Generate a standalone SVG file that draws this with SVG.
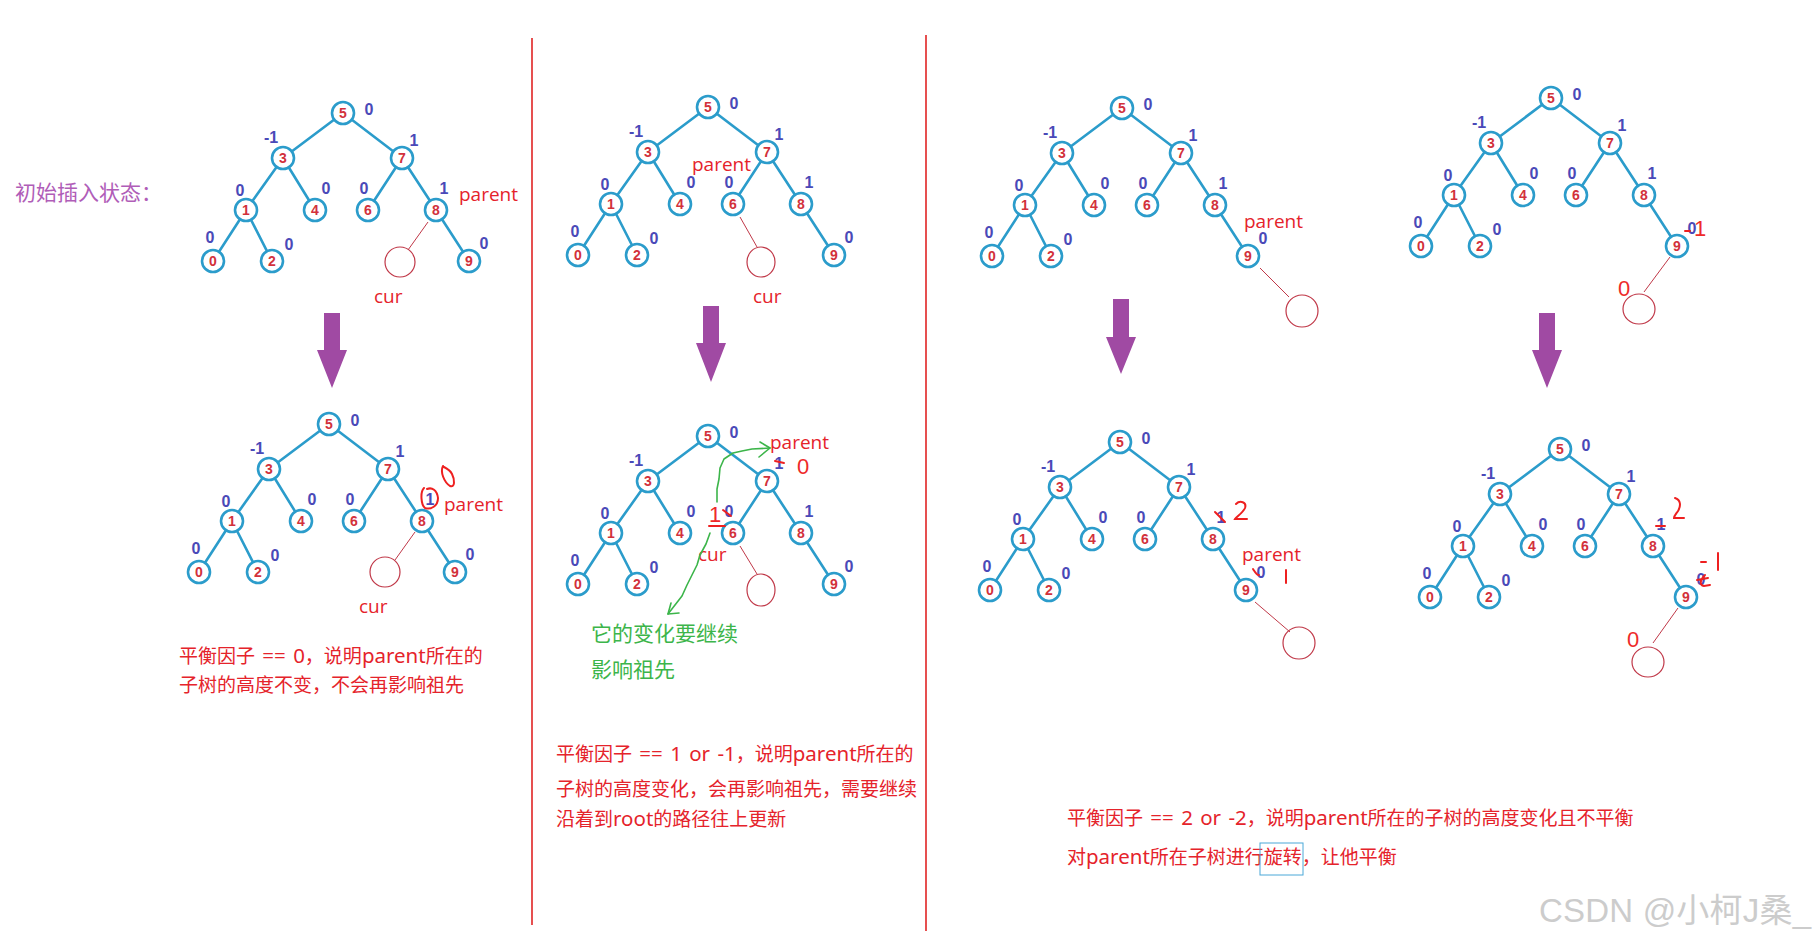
<svg xmlns="http://www.w3.org/2000/svg" width="1814" height="943" viewBox="0 0 1814 943">
<style>
.bg{fill:#fff}
.edge{stroke:#2b9ccb;stroke-width:2.6;fill:none;stroke-linecap:round}
.nd circle{fill:#fff;stroke:#2b9ccb;stroke-width:2.6}
.nd text{font-family:"Liberation Sans",Arial,sans-serif;font-weight:bold;font-size:14px;fill:#d2313b;text-anchor:middle}
.bf{font-family:"Liberation Sans",Arial,sans-serif;font-weight:bold;font-size:16px;fill:#4a49b8;text-anchor:middle}
.rl{font-family:"Open Sans","Noto Sans",sans-serif;font-size:19px;fill:#e5232b}
.rh{font-family:"Liberation Sans",sans-serif;font-size:22px;fill:#ee2a2a;text-anchor:middle}
.cn{font-family:"Noto Sans","Noto Sans CJK SC",sans-serif;font-size:19px;fill:#e5232b}
.la{font-size:20.5px;word-spacing:2px}
.gn{font-family:"Noto Sans CJK SC",sans-serif;font-size:21px;fill:#3cb54a}
.newc{fill:none;stroke:#c03848;stroke-width:1.2}
.newl{stroke:#c03848;stroke-width:1}
.sep{stroke:#e02424;stroke-width:1.6}
.arrow{fill:#a04aa3}
.pen{stroke:#ee2020;stroke-width:2;fill:none;stroke-linecap:round}
.grn{stroke:#3cb54a;stroke-width:1.6;fill:none;stroke-linecap:round;stroke-linejoin:round}
</style>
<rect class="bg" x="0" y="0" width="1814" height="943"/>

<!-- separators -->
<line class="sep" x1="532" y1="38" x2="532" y2="925"/>
<line class="sep" x1="926" y1="35" x2="926" y2="931"/>

<text id="title" x="15" y="200" font-family="Noto Sans CJK SC,sans-serif" font-size="21" fill="#b05db8">初始插入状态：</text>

<!-- Tree 1 -->
<g id="t1" transform="translate(343,113)">
<g class="connectors"><line class="edge" x1="0" y1="0" x2="-60" y2="45"/><line class="edge" x1="0" y1="0" x2="59" y2="45"/><line class="edge" x1="-60" y1="45" x2="-97" y2="97"/><line class="edge" x1="-60" y1="45" x2="-28" y2="97"/><line class="edge" x1="59" y1="45" x2="25" y2="97"/><line class="edge" x1="59" y1="45" x2="93" y2="97"/><line class="edge" x1="-97" y1="97" x2="-130" y2="148"/><line class="edge" x1="-97" y1="97" x2="-71" y2="148"/><line class="edge" x1="93" y1="97" x2="126" y2="148"/></g>
<g id="t1-n5" class="nd"><circle cx="0" cy="0" r="11"/><text x="0" y="5">5</text></g>
<g id="t1-n3" class="nd"><circle cx="-60" cy="45" r="11"/><text x="-60" y="50">3</text></g>
<g id="t1-n7" class="nd"><circle cx="59" cy="45" r="11"/><text x="59" y="50">7</text></g>
<g id="t1-n1" class="nd"><circle cx="-97" cy="97" r="11"/><text x="-97" y="102">1</text></g>
<g id="t1-n4" class="nd"><circle cx="-28" cy="97" r="11"/><text x="-28" y="102">4</text></g>
<g id="t1-n6" class="nd"><circle cx="25" cy="97" r="11"/><text x="25" y="102">6</text></g>
<g id="t1-n8" class="nd"><circle cx="93" cy="97" r="11"/><text x="93" y="102">8</text></g>
<g id="t1-n0" class="nd"><circle cx="-130" cy="148" r="11"/><text x="-130" y="153">0</text></g>
<g id="t1-n2" class="nd"><circle cx="-71" cy="148" r="11"/><text x="-71" y="153">2</text></g>
<g id="t1-n9" class="nd"><circle cx="126" cy="148" r="11"/><text x="126" y="153">9</text></g>
<g class="bfs"><text class="bf" x="26" y="2">0</text><text class="bf" x="-72" y="30">-1</text><text class="bf" x="71" y="33">1</text><text class="bf" x="-103" y="83">0</text><text class="bf" x="-17" y="81">0</text><text class="bf" x="21" y="81">0</text><text class="bf" x="101" y="81">1</text><text class="bf" x="-133" y="130">0</text><text class="bf" x="-54" y="137">0</text><text class="bf" x="141" y="136">0</text></g>
</g>
<g id="t1-new"><line class="newl" x1="428" y1="222" x2="408" y2="250"/><circle class="newc" cx="400" cy="262" r="15"/></g>
<text class="rl" x="459" y="201">parent</text>
<text class="rl" x="374" y="303">cur</text>

<!-- Tree 2 -->
<g id="t2" transform="translate(708,107)">
<g class="connectors"><line class="edge" x1="0" y1="0" x2="-60" y2="45"/><line class="edge" x1="0" y1="0" x2="59" y2="45"/><line class="edge" x1="-60" y1="45" x2="-97" y2="97"/><line class="edge" x1="-60" y1="45" x2="-28" y2="97"/><line class="edge" x1="59" y1="45" x2="25" y2="97"/><line class="edge" x1="59" y1="45" x2="93" y2="97"/><line class="edge" x1="-97" y1="97" x2="-130" y2="148"/><line class="edge" x1="-97" y1="97" x2="-71" y2="148"/><line class="edge" x1="93" y1="97" x2="126" y2="148"/></g>
<g id="t2-n5" class="nd"><circle cx="0" cy="0" r="11"/><text x="0" y="5">5</text></g>
<g id="t2-n3" class="nd"><circle cx="-60" cy="45" r="11"/><text x="-60" y="50">3</text></g>
<g id="t2-n7" class="nd"><circle cx="59" cy="45" r="11"/><text x="59" y="50">7</text></g>
<g id="t2-n1" class="nd"><circle cx="-97" cy="97" r="11"/><text x="-97" y="102">1</text></g>
<g id="t2-n4" class="nd"><circle cx="-28" cy="97" r="11"/><text x="-28" y="102">4</text></g>
<g id="t2-n6" class="nd"><circle cx="25" cy="97" r="11"/><text x="25" y="102">6</text></g>
<g id="t2-n8" class="nd"><circle cx="93" cy="97" r="11"/><text x="93" y="102">8</text></g>
<g id="t2-n0" class="nd"><circle cx="-130" cy="148" r="11"/><text x="-130" y="153">0</text></g>
<g id="t2-n2" class="nd"><circle cx="-71" cy="148" r="11"/><text x="-71" y="153">2</text></g>
<g id="t2-n9" class="nd"><circle cx="126" cy="148" r="11"/><text x="126" y="153">9</text></g>
<g class="bfs"><text class="bf" x="26" y="2">0</text><text class="bf" x="-72" y="30">-1</text><text class="bf" x="71" y="33">1</text><text class="bf" x="-103" y="83">0</text><text class="bf" x="-17" y="81">0</text><text class="bf" x="21" y="81">0</text><text class="bf" x="101" y="81">1</text><text class="bf" x="-133" y="130">0</text><text class="bf" x="-54" y="137">0</text><text class="bf" x="141" y="136">0</text></g>
</g>
<g id="t2-new"><line class="newl" x1="740" y1="217" x2="757" y2="247"/><ellipse class="newc" cx="761" cy="262" rx="14" ry="15"/></g>
<text class="rl" x="692" y="171">parent</text>
<text class="rl" x="753" y="303">cur</text>

<!-- Tree 3 -->
<g id="t3" transform="translate(1122,108)">
<g class="connectors"><line class="edge" x1="0" y1="0" x2="-60" y2="45"/><line class="edge" x1="0" y1="0" x2="59" y2="45"/><line class="edge" x1="-60" y1="45" x2="-97" y2="97"/><line class="edge" x1="-60" y1="45" x2="-28" y2="97"/><line class="edge" x1="59" y1="45" x2="25" y2="97"/><line class="edge" x1="59" y1="45" x2="93" y2="97"/><line class="edge" x1="-97" y1="97" x2="-130" y2="148"/><line class="edge" x1="-97" y1="97" x2="-71" y2="148"/><line class="edge" x1="93" y1="97" x2="126" y2="148"/></g>
<g id="t3-n5" class="nd"><circle cx="0" cy="0" r="11"/><text x="0" y="5">5</text></g>
<g id="t3-n3" class="nd"><circle cx="-60" cy="45" r="11"/><text x="-60" y="50">3</text></g>
<g id="t3-n7" class="nd"><circle cx="59" cy="45" r="11"/><text x="59" y="50">7</text></g>
<g id="t3-n1" class="nd"><circle cx="-97" cy="97" r="11"/><text x="-97" y="102">1</text></g>
<g id="t3-n4" class="nd"><circle cx="-28" cy="97" r="11"/><text x="-28" y="102">4</text></g>
<g id="t3-n6" class="nd"><circle cx="25" cy="97" r="11"/><text x="25" y="102">6</text></g>
<g id="t3-n8" class="nd"><circle cx="93" cy="97" r="11"/><text x="93" y="102">8</text></g>
<g id="t3-n0" class="nd"><circle cx="-130" cy="148" r="11"/><text x="-130" y="153">0</text></g>
<g id="t3-n2" class="nd"><circle cx="-71" cy="148" r="11"/><text x="-71" y="153">2</text></g>
<g id="t3-n9" class="nd"><circle cx="126" cy="148" r="11"/><text x="126" y="153">9</text></g>
<g class="bfs"><text class="bf" x="26" y="2">0</text><text class="bf" x="-72" y="30">-1</text><text class="bf" x="71" y="33">1</text><text class="bf" x="-103" y="83">0</text><text class="bf" x="-17" y="81">0</text><text class="bf" x="21" y="81">0</text><text class="bf" x="101" y="81">1</text><text class="bf" x="-133" y="130">0</text><text class="bf" x="-54" y="137">0</text><text class="bf" x="141" y="136">0</text></g>
</g>
<g id="t3-new"><line class="newl" x1="1260" y1="268" x2="1289" y2="297"/><circle class="newc" cx="1302" cy="311" r="16"/></g>
<text class="rl" x="1244" y="228">parent</text>

<!-- Tree 4 -->
<g id="t4" transform="translate(1551,98)">
<g class="connectors"><line class="edge" x1="0" y1="0" x2="-60" y2="45"/><line class="edge" x1="0" y1="0" x2="59" y2="45"/><line class="edge" x1="-60" y1="45" x2="-97" y2="97"/><line class="edge" x1="-60" y1="45" x2="-28" y2="97"/><line class="edge" x1="59" y1="45" x2="25" y2="97"/><line class="edge" x1="59" y1="45" x2="93" y2="97"/><line class="edge" x1="-97" y1="97" x2="-130" y2="148"/><line class="edge" x1="-97" y1="97" x2="-71" y2="148"/><line class="edge" x1="93" y1="97" x2="126" y2="148"/></g>
<g id="t4-n5" class="nd"><circle cx="0" cy="0" r="11"/><text x="0" y="5">5</text></g>
<g id="t4-n3" class="nd"><circle cx="-60" cy="45" r="11"/><text x="-60" y="50">3</text></g>
<g id="t4-n7" class="nd"><circle cx="59" cy="45" r="11"/><text x="59" y="50">7</text></g>
<g id="t4-n1" class="nd"><circle cx="-97" cy="97" r="11"/><text x="-97" y="102">1</text></g>
<g id="t4-n4" class="nd"><circle cx="-28" cy="97" r="11"/><text x="-28" y="102">4</text></g>
<g id="t4-n6" class="nd"><circle cx="25" cy="97" r="11"/><text x="25" y="102">6</text></g>
<g id="t4-n8" class="nd"><circle cx="93" cy="97" r="11"/><text x="93" y="102">8</text></g>
<g id="t4-n0" class="nd"><circle cx="-130" cy="148" r="11"/><text x="-130" y="153">0</text></g>
<g id="t4-n2" class="nd"><circle cx="-71" cy="148" r="11"/><text x="-71" y="153">2</text></g>
<g id="t4-n9" class="nd"><circle cx="126" cy="148" r="11"/><text x="126" y="153">9</text></g>
<g class="bfs"><text class="bf" x="26" y="2">0</text><text class="bf" x="-72" y="30">-1</text><text class="bf" x="71" y="33">1</text><text class="bf" x="-103" y="83">0</text><text class="bf" x="-17" y="81">0</text><text class="bf" x="21" y="81">0</text><text class="bf" x="101" y="81">1</text><text class="bf" x="-133" y="130">0</text><text class="bf" x="-54" y="137">0</text><text class="bf" x="141" y="136">0</text></g>
</g>
<g id="t4-new"><line class="newl" x1="1670" y1="257" x2="1644" y2="292"/><ellipse class="newc" cx="1639" cy="309" rx="16" ry="15"/></g>
<text class="rh" x="1624" y="296" font-size="20">0</text>
<line class="pen" x1="1685" y1="231" x2="1690" y2="231"/>
<text class="rh" x="1700" y="236" font-size="20">1</text>

<!-- arrows -->
<g id="arrows">
<polygon class="arrow" points="324,313 340,313 340,350 347,350 332,388 317,350 324,350"/>
<polygon class="arrow" points="703,306 719,306 719,343 726,343 711,382 696,343 703,343"/>
<polygon class="arrow" points="1113,299 1129,299 1129,337 1136,337 1121,374 1106,337 1113,337"/>
<polygon class="arrow" points="1539,313 1555,313 1555,350 1562,350 1547,388 1532,350 1539,350"/>
</g>

<!-- Tree 5 -->
<g id="t5" transform="translate(329,424)">
<g class="connectors"><line class="edge" x1="0" y1="0" x2="-60" y2="45"/><line class="edge" x1="0" y1="0" x2="59" y2="45"/><line class="edge" x1="-60" y1="45" x2="-97" y2="97"/><line class="edge" x1="-60" y1="45" x2="-28" y2="97"/><line class="edge" x1="59" y1="45" x2="25" y2="97"/><line class="edge" x1="59" y1="45" x2="93" y2="97"/><line class="edge" x1="-97" y1="97" x2="-130" y2="148"/><line class="edge" x1="-97" y1="97" x2="-71" y2="148"/><line class="edge" x1="93" y1="97" x2="126" y2="148"/></g>
<g id="t5-n5" class="nd"><circle cx="0" cy="0" r="11"/><text x="0" y="5">5</text></g>
<g id="t5-n3" class="nd"><circle cx="-60" cy="45" r="11"/><text x="-60" y="50">3</text></g>
<g id="t5-n7" class="nd"><circle cx="59" cy="45" r="11"/><text x="59" y="50">7</text></g>
<g id="t5-n1" class="nd"><circle cx="-97" cy="97" r="11"/><text x="-97" y="102">1</text></g>
<g id="t5-n4" class="nd"><circle cx="-28" cy="97" r="11"/><text x="-28" y="102">4</text></g>
<g id="t5-n6" class="nd"><circle cx="25" cy="97" r="11"/><text x="25" y="102">6</text></g>
<g id="t5-n8" class="nd"><circle cx="93" cy="97" r="11"/><text x="93" y="102">8</text></g>
<g id="t5-n0" class="nd"><circle cx="-130" cy="148" r="11"/><text x="-130" y="153">0</text></g>
<g id="t5-n2" class="nd"><circle cx="-71" cy="148" r="11"/><text x="-71" y="153">2</text></g>
<g id="t5-n9" class="nd"><circle cx="126" cy="148" r="11"/><text x="126" y="153">9</text></g>
<g class="bfs"><text class="bf" x="26" y="2">0</text><text class="bf" x="-72" y="30">-1</text><text class="bf" x="71" y="33">1</text><text class="bf" x="-103" y="83">0</text><text class="bf" x="-17" y="81">0</text><text class="bf" x="21" y="81">0</text><text class="bf" x="101" y="81">1</text><text class="bf" x="-133" y="130">0</text><text class="bf" x="-54" y="137">0</text><text class="bf" x="141" y="136">0</text></g>
</g>
<g id="t5-new"><line class="newl" x1="415" y1="532" x2="395" y2="560"/><circle class="newc" cx="385" cy="572" r="15"/></g>
<path class="pen" d="M443,466 C440,472 444,482 450,486 C455,488 455,480 452,474 C450,470 446,468 444,467"/>
<path class="pen" d="M424,488 C420,492 421,505 425,508 C431,510 438,506 438,498 C437,490 432,487 427,489"/>
<text class="rl" x="444" y="511">parent</text>
<text class="rl" x="359" y="613">cur</text>
<text class="cn" x="179" y="663">平衡因子<tspan class="la"> == 0</tspan>，说明<tspan class="la">parent</tspan>所在的</text>
<text class="cn" x="179" y="692">子树的高度不变，不会再影响祖先</text>

<!-- Tree 6 -->
<g id="t6" transform="translate(708,436)">
<g class="connectors"><line class="edge" x1="0" y1="0" x2="-60" y2="45"/><line class="edge" x1="0" y1="0" x2="59" y2="45"/><line class="edge" x1="-60" y1="45" x2="-97" y2="97"/><line class="edge" x1="-60" y1="45" x2="-28" y2="97"/><line class="edge" x1="59" y1="45" x2="25" y2="97"/><line class="edge" x1="59" y1="45" x2="93" y2="97"/><line class="edge" x1="-97" y1="97" x2="-130" y2="148"/><line class="edge" x1="-97" y1="97" x2="-71" y2="148"/><line class="edge" x1="93" y1="97" x2="126" y2="148"/></g>
<g id="t6-n5" class="nd"><circle cx="0" cy="0" r="11"/><text x="0" y="5">5</text></g>
<g id="t6-n3" class="nd"><circle cx="-60" cy="45" r="11"/><text x="-60" y="50">3</text></g>
<g id="t6-n7" class="nd"><circle cx="59" cy="45" r="11"/><text x="59" y="50">7</text></g>
<g id="t6-n1" class="nd"><circle cx="-97" cy="97" r="11"/><text x="-97" y="102">1</text></g>
<g id="t6-n4" class="nd"><circle cx="-28" cy="97" r="11"/><text x="-28" y="102">4</text></g>
<g id="t6-n6" class="nd"><circle cx="25" cy="97" r="11"/><text x="25" y="102">6</text></g>
<g id="t6-n8" class="nd"><circle cx="93" cy="97" r="11"/><text x="93" y="102">8</text></g>
<g id="t6-n0" class="nd"><circle cx="-130" cy="148" r="11"/><text x="-130" y="153">0</text></g>
<g id="t6-n2" class="nd"><circle cx="-71" cy="148" r="11"/><text x="-71" y="153">2</text></g>
<g id="t6-n9" class="nd"><circle cx="126" cy="148" r="11"/><text x="126" y="153">9</text></g>
<g class="bfs"><text class="bf" x="26" y="2">0</text><text class="bf" x="-72" y="30">-1</text><text class="bf" x="71" y="33">1</text><text class="bf" x="-103" y="83">0</text><text class="bf" x="-17" y="81">0</text><text class="bf" x="21" y="81">0</text><text class="bf" x="101" y="81">1</text><text class="bf" x="-133" y="130">0</text><text class="bf" x="-54" y="137">0</text><text class="bf" x="141" y="136">0</text></g>
</g>
<g id="t6-new"><line class="newl" x1="740" y1="546" x2="757" y2="574"/><ellipse class="newc" cx="761" cy="590" rx="14" ry="16"/></g>
<text class="rl" x="770" y="449">parent</text>
<path class="pen" d="M775,461 L784,463" stroke-width="1.3"/>
<text class="rh" x="803" y="474">0</text>
<text class="rh" x="715" y="522">1</text>
<path class="pen" d="M723,510 L731,516" stroke-width="1.3"/>
<line class="pen" x1="709" y1="526" x2="725" y2="526"/>
<text class="rl" x="698" y="561">cur</text>
<g id="green-arrows">
<path class="grn" d="M717,502 L717,489 L719,479 L720,468 L724,459 L733,453 L742,451 L752,449 L770,448"/>
<path class="grn" d="M760,442 L770,448 L759,457"/>
<path class="grn" d="M710,533 L706,544 L700,555 L697,565 L693,573 L687,585 L682,596 L675,605 L668,614"/>
<path class="grn" d="M671,603 L668,614 L679,613"/>
</g>
<text class="gn" x="591" y="641">它的变化要继续</text>
<text class="gn" x="591" y="677">影响祖先</text>
<text class="cn" x="556" y="761">平衡因子<tspan class="la"> == 1 or -1</tspan>，说明<tspan class="la">parent</tspan>所在的</text>
<text class="cn" x="556" y="796">子树的高度变化，会再影响祖先，需要继续</text>
<text class="cn" x="556" y="826">沿着到<tspan class="la">root</tspan>的路径往上更新</text>

<!-- Tree 7 -->
<g id="t7" transform="translate(1120,442)">
<g class="connectors"><line class="edge" x1="0" y1="0" x2="-60" y2="45"/><line class="edge" x1="0" y1="0" x2="59" y2="45"/><line class="edge" x1="-60" y1="45" x2="-97" y2="97"/><line class="edge" x1="-60" y1="45" x2="-28" y2="97"/><line class="edge" x1="59" y1="45" x2="25" y2="97"/><line class="edge" x1="59" y1="45" x2="93" y2="97"/><line class="edge" x1="-97" y1="97" x2="-130" y2="148"/><line class="edge" x1="-97" y1="97" x2="-71" y2="148"/><line class="edge" x1="93" y1="97" x2="126" y2="148"/></g>
<g id="t7-n5" class="nd"><circle cx="0" cy="0" r="11"/><text x="0" y="5">5</text></g>
<g id="t7-n3" class="nd"><circle cx="-60" cy="45" r="11"/><text x="-60" y="50">3</text></g>
<g id="t7-n7" class="nd"><circle cx="59" cy="45" r="11"/><text x="59" y="50">7</text></g>
<g id="t7-n1" class="nd"><circle cx="-97" cy="97" r="11"/><text x="-97" y="102">1</text></g>
<g id="t7-n4" class="nd"><circle cx="-28" cy="97" r="11"/><text x="-28" y="102">4</text></g>
<g id="t7-n6" class="nd"><circle cx="25" cy="97" r="11"/><text x="25" y="102">6</text></g>
<g id="t7-n8" class="nd"><circle cx="93" cy="97" r="11"/><text x="93" y="102">8</text></g>
<g id="t7-n0" class="nd"><circle cx="-130" cy="148" r="11"/><text x="-130" y="153">0</text></g>
<g id="t7-n2" class="nd"><circle cx="-71" cy="148" r="11"/><text x="-71" y="153">2</text></g>
<g id="t7-n9" class="nd"><circle cx="126" cy="148" r="11"/><text x="126" y="153">9</text></g>
<g class="bfs"><text class="bf" x="26" y="2">0</text><text class="bf" x="-72" y="30">-1</text><text class="bf" x="71" y="33">1</text><text class="bf" x="-103" y="83">0</text><text class="bf" x="-17" y="81">0</text><text class="bf" x="21" y="81">0</text><text class="bf" x="101" y="81">1</text><text class="bf" x="-133" y="130">0</text><text class="bf" x="-54" y="137">0</text><text class="bf" x="141" y="136">0</text></g>
</g>
<g id="t7-new"><line class="newl" x1="1255" y1="602" x2="1290" y2="632"/><circle class="newc" cx="1299" cy="643" r="16"/></g>
<line class="pen" x1="1215" y1="512" x2="1225" y2="522"/>
<path class="pen" d="M1236,504 C1240,500 1247,502 1245,508 C1243,513 1236,517 1235,519 L1247,519"/>
<text class="rl" x="1242" y="561">parent</text>
<path class="pen" d="M1253,569 C1255,572 1257,576 1259,575" stroke-width="1.5"/>
<line class="pen" x1="1286" y1="570" x2="1286" y2="583"/>

<!-- Tree 8 -->
<g id="t8" transform="translate(1560,449)">
<g class="connectors"><line class="edge" x1="0" y1="0" x2="-60" y2="45"/><line class="edge" x1="0" y1="0" x2="59" y2="45"/><line class="edge" x1="-60" y1="45" x2="-97" y2="97"/><line class="edge" x1="-60" y1="45" x2="-28" y2="97"/><line class="edge" x1="59" y1="45" x2="25" y2="97"/><line class="edge" x1="59" y1="45" x2="93" y2="97"/><line class="edge" x1="-97" y1="97" x2="-130" y2="148"/><line class="edge" x1="-97" y1="97" x2="-71" y2="148"/><line class="edge" x1="93" y1="97" x2="126" y2="148"/></g>
<g id="t8-n5" class="nd"><circle cx="0" cy="0" r="11"/><text x="0" y="5">5</text></g>
<g id="t8-n3" class="nd"><circle cx="-60" cy="45" r="11"/><text x="-60" y="50">3</text></g>
<g id="t8-n7" class="nd"><circle cx="59" cy="45" r="11"/><text x="59" y="50">7</text></g>
<g id="t8-n1" class="nd"><circle cx="-97" cy="97" r="11"/><text x="-97" y="102">1</text></g>
<g id="t8-n4" class="nd"><circle cx="-28" cy="97" r="11"/><text x="-28" y="102">4</text></g>
<g id="t8-n6" class="nd"><circle cx="25" cy="97" r="11"/><text x="25" y="102">6</text></g>
<g id="t8-n8" class="nd"><circle cx="93" cy="97" r="11"/><text x="93" y="102">8</text></g>
<g id="t8-n0" class="nd"><circle cx="-130" cy="148" r="11"/><text x="-130" y="153">0</text></g>
<g id="t8-n2" class="nd"><circle cx="-71" cy="148" r="11"/><text x="-71" y="153">2</text></g>
<g id="t8-n9" class="nd"><circle cx="126" cy="148" r="11"/><text x="126" y="153">9</text></g>
<g class="bfs"><text class="bf" x="26" y="2">0</text><text class="bf" x="-72" y="30">-1</text><text class="bf" x="71" y="33">1</text><text class="bf" x="-103" y="83">0</text><text class="bf" x="-17" y="81">0</text><text class="bf" x="21" y="81">0</text><text class="bf" x="101" y="81">1</text><text class="bf" x="-133" y="130">0</text><text class="bf" x="-54" y="137">0</text><text class="bf" x="141" y="136">0</text></g>
</g>
<g id="t8-new"><line class="newl" x1="1678" y1="608" x2="1653" y2="643"/><ellipse class="newc" cx="1648" cy="662" rx="16" ry="15"/></g>
<text class="rh" x="1633" y="647" font-size="20">0</text>
<line class="pen" x1="1656" y1="526" x2="1665" y2="526"/>
<path class="pen" d="M1675,498 C1681,500 1681,506 1678,511 C1676,514 1674,516 1674,518 L1684,518"/>
<line class="pen" x1="1701" y1="562" x2="1706" y2="562"/>
<line class="pen" x1="1718" y1="553" x2="1718" y2="570"/>
<path class="pen" d="M1697,580 L1708,578 M1705,575 C1700,580 1699,585 1704,586 L1710,585" stroke-width="1.6"/>
<text class="cn" x="1067" y="825">平衡因子<tspan class="la"> == 2 or -2</tspan>，说明<tspan class="la">parent</tspan>所在的子树的高度变化且不平衡</text>
<text class="cn" x="1067" y="864">对<tspan class="la">parent</tspan>所在子树进行旋转，让他平衡</text>
<rect x="1260" y="843" width="43" height="32" fill="none" stroke="#4aa8d8" stroke-width="1"/>

<text id="watermark" x="1539" y="922" font-family="Liberation Sans,Noto Sans CJK SC,sans-serif" font-size="33" fill="#cccccc" textLength="272">CSDN @小柯J桑_</text>
</svg>
